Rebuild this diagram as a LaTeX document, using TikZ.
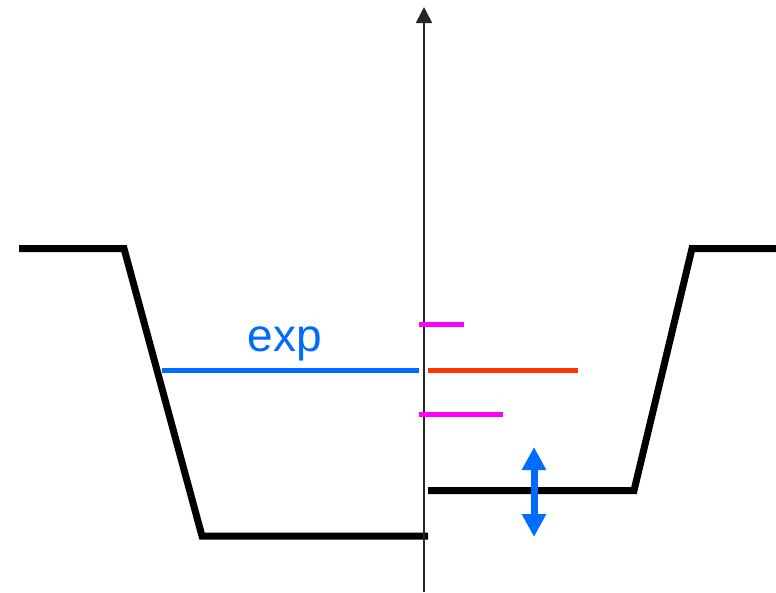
\documentclass[tikz,border=0pt]{standalone}
\usepackage{fontspec}
\setsansfont{Liberation Sans}
\usetikzlibrary{arrows.meta}
\definecolor{expblue}{RGB}{0,108,255}
\definecolor{lvlred}{RGB}{255,51,0}
\definecolor{lvlmag}{RGB}{255,0,255}

\begin{document}
\begin{tikzpicture}[
    x=1pt, y=-1pt,
    well/.style={line width=7pt, black, line join=miter},
    level/.style={line width=5pt},
    axis/.style={-{Triangle[length=16pt, width=16pt]}, line width=1.6pt, black!85},
    shiftarrow/.style={{Triangle[length=23pt, width=23pt]}-{Triangle[length=23pt, width=23pt]}, line width=7pt, expblue},
    lbl/.style={font=\sffamily\fontsize{46}{50}\selectfont, text=expblue, inner sep=0pt}
  ]
    \useasboundingbox (0,0) rectangle (776,592);
    % left well (unshifted)
    \coordinate (lt0) at (19,248.5);
    \coordinate (lt1) at (124,248.5);
    \coordinate (lb0) at (202,536);
    \coordinate (lb1) at (428,536);
    \draw[well] (lt0) -- (lt1) -- (lb0) -- (lb1);
    % right well (shifted bottom)
    \coordinate (rb0) at (428,490.5);
    \coordinate (rb1) at (634,490.5);
    \coordinate (rt0) at (692,248.5);
    \coordinate (rt1) at (776,248.5);
    \draw[well] (rb0) -- (rb1) -- (rt0) -- (rt1);
    % axis
    \coordinate (ax0) at (424,592);
    \coordinate (ax1) at (424,7);
    \draw[axis] (ax0) -- (ax1);
    % levels
    \coordinate (b0) at (162,370);
    \coordinate (b1) at (419,370);
    \draw[level, expblue] (b0) -- (b1);
    \node[lbl, anchor=base] (explbl) at (285,351) {exp};
    \coordinate (r0) at (428,370);
    \coordinate (r1) at (578,370);
    \draw[level, lvlred] (r0) -- (r1);
    \coordinate (m0) at (419,324);
    \coordinate (m1) at (464,324);
    \draw[level, lvlmag] (m0) -- (m1);
    \coordinate (n0) at (419,414.5);
    \coordinate (n1) at (503,414.5);
    \draw[level, lvlmag] (n0) -- (n1);
    % shift arrow
    \coordinate (s0) at (534,537);
    \coordinate (s1) at (534,447);
    \draw[shiftarrow] (s0) -- (s1);
\end{tikzpicture}
\end{document}
